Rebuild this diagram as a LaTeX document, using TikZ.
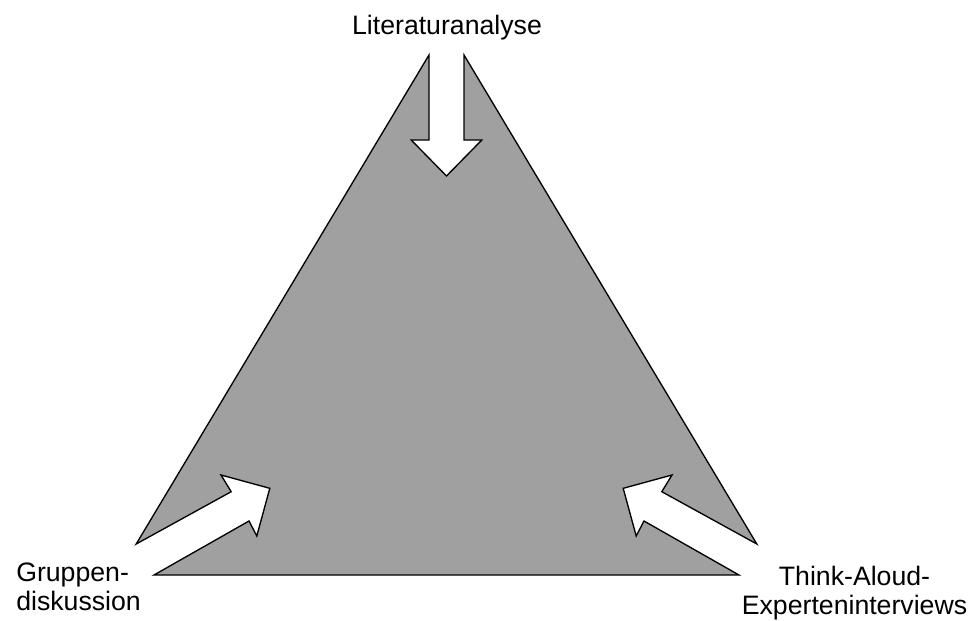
\documentclass[tikz,border=0pt]{standalone}
\usepackage{fontspec}
\setmainfont{Liberation Sans}
\definecolor{tri}{HTML}{A0A0A0}
\tikzset{
  face/.style={draw=black,line width=1pt,fill=tri,line join=miter},
  lbl/.style={font=\fontsize{20}{21.4}\selectfont,inner sep=0pt},
}

\begin{document}
\begin{tikzpicture}[x=0.75pt,y=-0.75pt]
  \useasboundingbox (0,0) rectangle (971,621);
  % triangle with the three arrows cut out
  \draw[face] (464,55) -- (464,140) -- (481.8,140) -- (446.5,176) -- (411.2,140)
    -- (429,140) -- (429,55)
    -- (136.2,544) -- (231.2,491.7) -- (221,475) -- (269.8,488.3) -- (256.8,536)
    -- (249,521) -- (154,575)
    -- (739,575) -- (644,521) -- (636.2,536) -- (623.2,488.3) -- (672,475)
    -- (661.8,491.7) -- (756.8,544) -- cycle;
  \node[lbl,anchor=base] (lit) at (447,34) {Literaturanalyse};
  \node[lbl,align=left,anchor=base west] (grp) at (16,610) {Gruppen-\\diskussion};
  \node[lbl,align=center,anchor=base] (tae) at (854.5,614) {Think-Aloud-\\Experteninterviews};
\end{tikzpicture}
\end{document}
